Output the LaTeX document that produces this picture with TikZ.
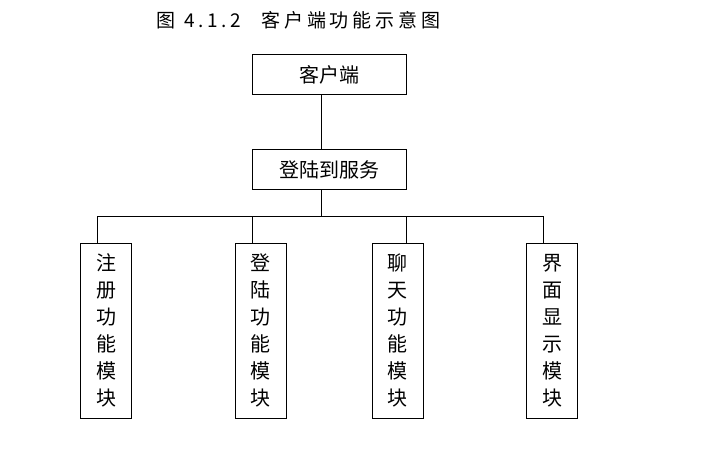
\documentclass[tikz,border=0pt]{standalone}
\usepackage{fontspec}
\setmainfont{Noto Sans CJK SC}
\newfontfamily\titlefont{Noto Sans CJK SC}[LetterSpace=20]
\tikzset{
  topbox/.style={draw, line width=1pt, minimum width=154pt, minimum height=40pt,
    inner sep=0pt, font=\fontsize{20}{24}\selectfont},
  modbox/.style={draw, line width=1pt, minimum width=51pt, minimum height=175pt,
    inner sep=0pt, align=center, font=\fontsize{20}{27}\selectfont},
  link/.style={line width=1pt}
}
\begin{document}
\begin{tikzpicture}[x=1pt,y=-1pt]
  \useasboundingbox (0,0) rectangle (726,450);
  % title
  \node (title) at (298.5,20) {\titlefont\fontsize{19}{21}\selectfont 图 4.1.2\hspace{20pt}客户端功能示意图};
  % upper boxes
  \node[topbox] (client) at (329,74.5) {客户端};
  \node[topbox] (login) at (329,169.5) {登陆到服务};
  % modules
  \node[modbox] (reg) at (106,330.5) {注\\册\\功\\能\\模\\块};
  \node[modbox] (signin) at (260.5,330.5) {登\\陆\\功\\能\\模\\块};
  \node[modbox] (chat) at (397.5,330.5) {聊\\天\\功\\能\\模\\块};
  \node[modbox] (view) at (552,330.5) {界\\面\\显\\示\\模\\块};
  % bus
  \coordinate (hub) at (321,216);
  \coordinate (c1) at (97,216);
  \coordinate (c2) at (252,216);
  \coordinate (c3) at (406,216);
  \coordinate (c4) at (543,216);
  \draw[link] (client.south -| hub) -- (login.north -| hub);
  \draw[link] (login.south -| hub) -- (hub);
  \draw[link] (c1) -- (c4);
  \draw[link] (c1) -- (c1 |- reg.north);
  \draw[link] (c2) -- (c2 |- signin.north);
  \draw[link] (c3) -- (c3 |- chat.north);
  \draw[link] (c4) -- (c4 |- view.north);
\end{tikzpicture}
\end{document}
